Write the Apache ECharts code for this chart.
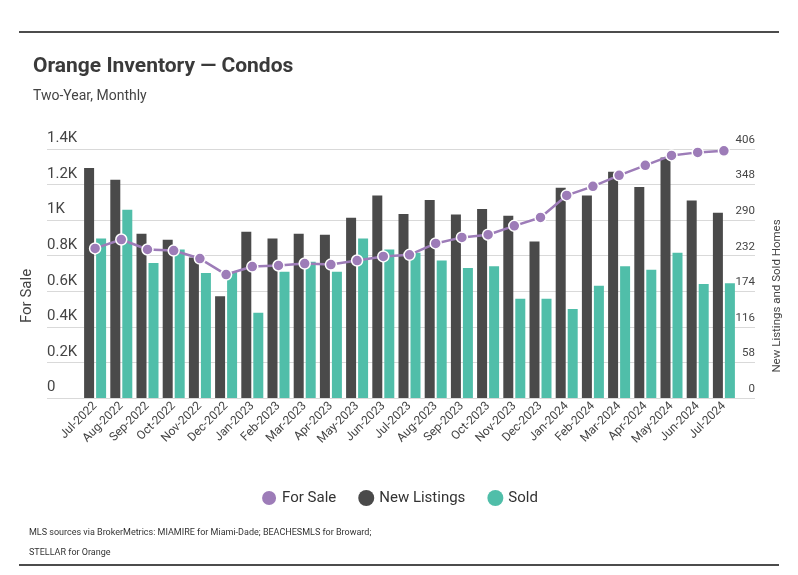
<!DOCTYPE html>
<html><head><meta charset="utf-8">
<script src="https://cdn.jsdelivr.net/npm/echarts@6/dist/echarts.min.js"></script>
<style>html,body{margin:0;padding:0;background:#fff}#c{width:798px;height:575px}</style>
</head><body><div id="c"></div>
<script>
const months = ['Jul-2022','Aug-2022','Sep-2022','Oct-2022','Nov-2022','Dec-2022','Jan-2023','Feb-2023','Mar-2023','Apr-2023','May-2023','Jun-2023','Jul-2023','Aug-2023','Sep-2023','Oct-2023','Nov-2023','Dec-2023','Jan-2024','Feb-2024','Mar-2024','Apr-2024','May-2024','Jun-2024','Jul-2024'];
const forSale = [841,891,835,829,784,694,739,745,756,750,773,796,805,869,903,918,968,1015,1139,1190,1252,1308,1364,1381,1390];
const newListings = [375,356,268,258,229,166,271,260,268,266,294,330,300,323,299,308,297,255,343,330,369,344,392,322,302];
const sold = [260,307,220,242,204,205,139,206,222,206,260,242,237,224,212,215,162,162,145,183,215,209,237,186,187];
const leftTicks = [0,200,400,600,800,1000,1200,1400];
const rightTicks = [0,58,116,174,232,290,348,406];

const FONT = "'Roboto',sans-serif";
const PURPLE = '#9d7cb8', DARK = '#4a4a4a', TEAL = '#50bea9';
const chart = echarts.init(document.getElementById('c'));
const TOP = 149, BOTTOM = 575 - 398;
chart.setOption({
  animation: false,
  textStyle: {fontFamily: FONT},
  grid: [
    {left: 82, right: 61, top: TOP, bottom: BOTTOM},
    {left: 47, right: 43, top: TOP, bottom: BOTTOM}
  ],
  legend: {
    top: 484, left: 'center', icon: 'circle', itemWidth: 16, itemHeight: 16, itemGap: 22,
    textStyle: {fontSize: 15, color: '#333', fontFamily: FONT},
    data: ['For Sale','New Listings','Sold']
  },
  xAxis: [
    {type: 'category', gridIndex: 0, data: months, boundaryGap: true,
     axisLine: {show: false}, axisTick: {show: false},
     axisLabel: {rotate: 45, fontSize: 12, color: '#444', margin: 6, interval: 0, fontFamily: FONT}},
    {type: 'value', gridIndex: 1, min: 0, max: 1, show: false}
  ],
  yAxis: [
    {type: 'value', gridIndex: 0, min: 0, max: 1400, interval: 200, show: false},
    {type: 'value', gridIndex: 0, min: 0, max: 406, interval: 58, show: false, position: 'right'},
    {type: 'value', gridIndex: 1, min: 0, max: 1400, interval: 200, position: 'left',
     axisLine: {show: false}, axisTick: {show: false},
     splitLine: {show: true, lineStyle: {color: '#d9d9d9', width: 1}},
     axisLabel: {inside: true, margin: 0, verticalAlign: 'bottom', padding: [0,0,3,0], fontSize: 15, color: '#444', fontFamily: FONT,
       formatter: v => v === 0 ? '0' : (v/1000) + 'K'}},
    {type: 'value', gridIndex: 1, min: 0, max: 406, interval: 58, position: 'right',
     axisLine: {show: false}, axisTick: {show: false}, splitLine: {show: false},
     axisLabel: {inside: true, margin: 0, verticalAlign: 'bottom', padding: [0,0,3,0], fontSize: 11.5, color: '#444', fontFamily: FONT}}
  ],
  series: [
    {name: 'New Listings', type: 'bar', xAxisIndex: 0, yAxisIndex: 1, data: newListings,
     barWidth: 10, barGap: '20%', itemStyle: {color: DARK}, z: 2},
    {name: 'Sold', type: 'bar', xAxisIndex: 0, yAxisIndex: 1, data: sold,
     barWidth: 10, barGap: '20%', itemStyle: {color: TEAL}, z: 2},
    {name: 'For Sale', type: 'line', xAxisIndex: 0, yAxisIndex: 0, data: forSale,
     symbol: 'circle', symbolSize: 11, lineStyle: {color: PURPLE, width: 2.5},
     itemStyle: {color: PURPLE, borderColor: '#fff', borderWidth: 1.5}, z: 5}
  ],
  graphic: [
    {type: 'line', shape: {x1: 19, y1: 32, x2: 779, y2: 32}, style: {stroke: '#111', lineWidth: 1.5}},
    {type: 'line', shape: {x1: 19, y1: 565, x2: 779, y2: 565}, style: {stroke: '#111', lineWidth: 1.5}},
    {type: 'text', left: 33, top: 56, style: {text: 'Orange Inventory — Condos', font: "bold 21px 'Roboto',sans-serif", fill: '#3a3a3a'}},
    {type: 'text', left: 33, top: 89, style: {text: 'Two-Year, Monthly', font: "14px " + FONT, fill: '#444'}},
    {type: 'text', x: 27, y: 296, rotation: Math.PI/2, style: {text: 'For Sale', font: "15px " + FONT, fill: '#444', align: 'center', verticalAlign: 'middle'}},
    {type: 'text', x: 777, y: 296, rotation: Math.PI/2, style: {text: 'New Listings and Sold Homes', font: "11.5px " + FONT, fill: '#444', align: 'center', verticalAlign: 'middle'}},
    {type: 'text', left: 29, top: 528, style: {text: 'MLS sources via BrokerMetrics: MIAMIRE for Miami-Dade; BEACHESMLS for Broward;', font: "9px " + FONT, fill: '#333'}},
    {type: 'text', left: 29, top: 548, style: {text: 'STELLAR for Orange', font: "9px " + FONT, fill: '#333'}}
  ]
});
</script></body></html>
